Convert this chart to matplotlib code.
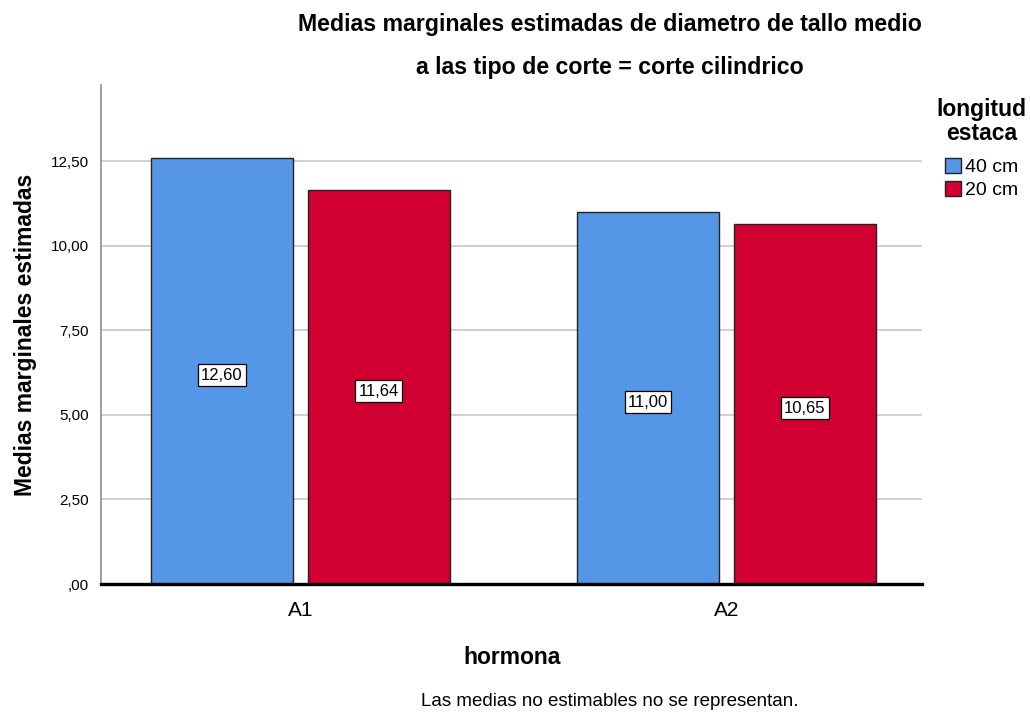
import matplotlib
matplotlib.use('Agg')

import numpy as np
import matplotlib.pyplot as plt
from matplotlib.patches import Patch

plt.rcParams['font.family'] = ['Liberation Sans', 'DejaVu Sans']

# Data
categories = ['A1', 'A2']
series_names = ['40 cm', '20 cm']
values_40 = [12.60, 11.00]
values_20 = [11.64, 10.65]
yticks = [0, 2.5, 5, 7.5, 10, 12.5]
ytick_labels = [',00', '2,50', '5,00', '7,50', '10,00', '12,50']

blue = '#5596E6'
red = '#D20032'

fig = plt.figure(figsize=(10.30, 7.13), dpi=100)
ax = fig.add_axes([0.0981, 0.1809, 0.797, 0.6999])

x = np.arange(len(categories))
width = 0.333
offset = 0.184

bars_40 = ax.bar(x - offset, values_40, width, color=blue, edgecolor='#222222',
                 linewidth=1.0, zorder=3)
bars_20 = ax.bar(x + offset, values_20, width, color=red, edgecolor='#222222',
                 linewidth=1.0, zorder=3)

# value labels at middle of bars
for bars, vals in [(bars_40, values_40), (bars_20, values_20)]:
    for b, v in zip(bars, vals):
        ax.annotate(f'{v:.2f}'.replace('.', ','),
                    xy=(b.get_x() + b.get_width() / 2, v / 2),
                    xytext=(0, -3), textcoords='offset points',
                    ha='center', va='center', fontsize=12, zorder=5,
                    bbox=dict(boxstyle='square,pad=0.2', facecolor='white',
                              edgecolor='black', linewidth=0.9))

ax.set_xlim(-0.468, 1.459)
ax.set_ylim(0, 14.75)
ax.set_yticks(yticks)
ax.set_yticklabels(ytick_labels, fontsize=11)
ax.set_xticks(x)
ax.set_xticklabels(categories, fontsize=15)
ax.tick_params(axis='y', length=0, pad=9)
ax.tick_params(axis='x', length=0, pad=12)

ax.grid(axis='y', color='#c8c8c8', linewidth=1.2, zorder=0)
ax.set_axisbelow(True)
for s in ['top', 'right']:
    ax.spines[s].set_visible(False)
ax.spines['left'].set_color('#8c8c8c')
ax.spines['left'].set_linewidth(1.2)
ax.spines['bottom'].set_color('black')
ax.spines['bottom'].set_linewidth(2.4)
ax.spines['bottom'].set_zorder(4)

fig.text(0.0243, 0.1809 + 0.35, 'Medias marginales estimadas', rotation=90,
         ha='center', va='center', fontsize=16.5, fontweight='bold')
fig.text(0.497, 0.0785, 'hormona', ha='center', va='center',
         fontsize=16.5, fontweight='bold')

fig.text(0.592, 0.965, 'Medias marginales estimadas de diametro de tallo medio',
         ha='center', va='center', fontsize=16.7, fontweight='bold')
fig.text(0.592, 0.905, 'a las tipo de corte = corte cilindrico',
         ha='center', va='center', fontsize=16.7, fontweight='bold')

fig.text(0.5917, 0.0155, 'Las medias no estimables no se representan.',
         ha='center', va='center', fontsize=13.5)

# legend
handles = [Patch(facecolor=blue, edgecolor='#222222', label=series_names[0]),
           Patch(facecolor=red, edgecolor='#222222', label=series_names[1])]
leg = fig.legend(handles=handles, title='longitud\nestaca', loc='upper center',
                 bbox_to_anchor=(0.953, 0.862), frameon=False, fontsize=14,
                 handlelength=0.8, handleheight=0.8, handletextpad=0.2,
                 labelspacing=0.25, borderaxespad=0, borderpad=0)
title = leg.get_title()
title.set_fontweight('bold')
title.set_fontsize(16.5)
title.set_linespacing(1.05)
title.set_multialignment('center')
leg._legend_box.align = 'center'
leg._legend_box.sep = 9

fig.savefig('out.png', dpi=100)
